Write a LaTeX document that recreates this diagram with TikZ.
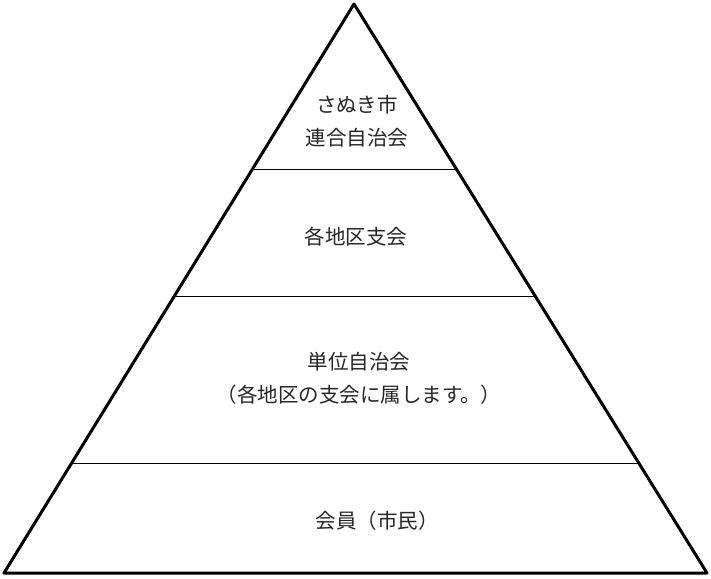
\documentclass[tikz,border=0pt]{standalone}
\usepackage{fontspec}
\setmainfont{Noto Sans CJK JP}
\usetikzlibrary{calc}
\begin{document}
\begin{tikzpicture}[x=1pt,y=-1pt,
  lbl/.style={font=\fontsize{20.5}{33}\selectfont, align=center, text=black!85, inner sep=0pt},
  divider/.style={line width=1pt},
  outline/.style={line width=3pt, line join=round}]
\useasboundingbox (0,0) rectangle (711,578);
\coordinate (A) at (354,4);
\coordinate (L) at (4,573);
\coordinate (R) at (707,573);
% dividers
\coordinate (l1) at ($(L)!{404/569}!(A)$);
\coordinate (r1) at ($(R)!{404/569}!(A)$);
\coordinate (l2) at ($(L)!{277/569}!(A)$);
\coordinate (r2) at ($(R)!{277/569}!(A)$);
\coordinate (l3) at ($(L)!{110/569}!(A)$);
\coordinate (r3) at ($(R)!{110/569}!(A)$);
\draw[divider] (l1) -- (r1);
\draw[divider] (l2) -- (r2);
\draw[divider] (l3) -- (r3);
\draw[outline] (A) -- (L) -- (R) -- cycle;
% labels
\node[lbl] (t1) at (357,121) {さぬき市\\連合自治会};
\node[lbl] (t2) at (356,237) {各地区支会};
\node[lbl] (t3) at (359,378) {単位自治会\\（各地区の支会に属します。）};
\node[lbl] (t4) at (377,521) {会員（市民）};
\end{tikzpicture}
\end{document}
